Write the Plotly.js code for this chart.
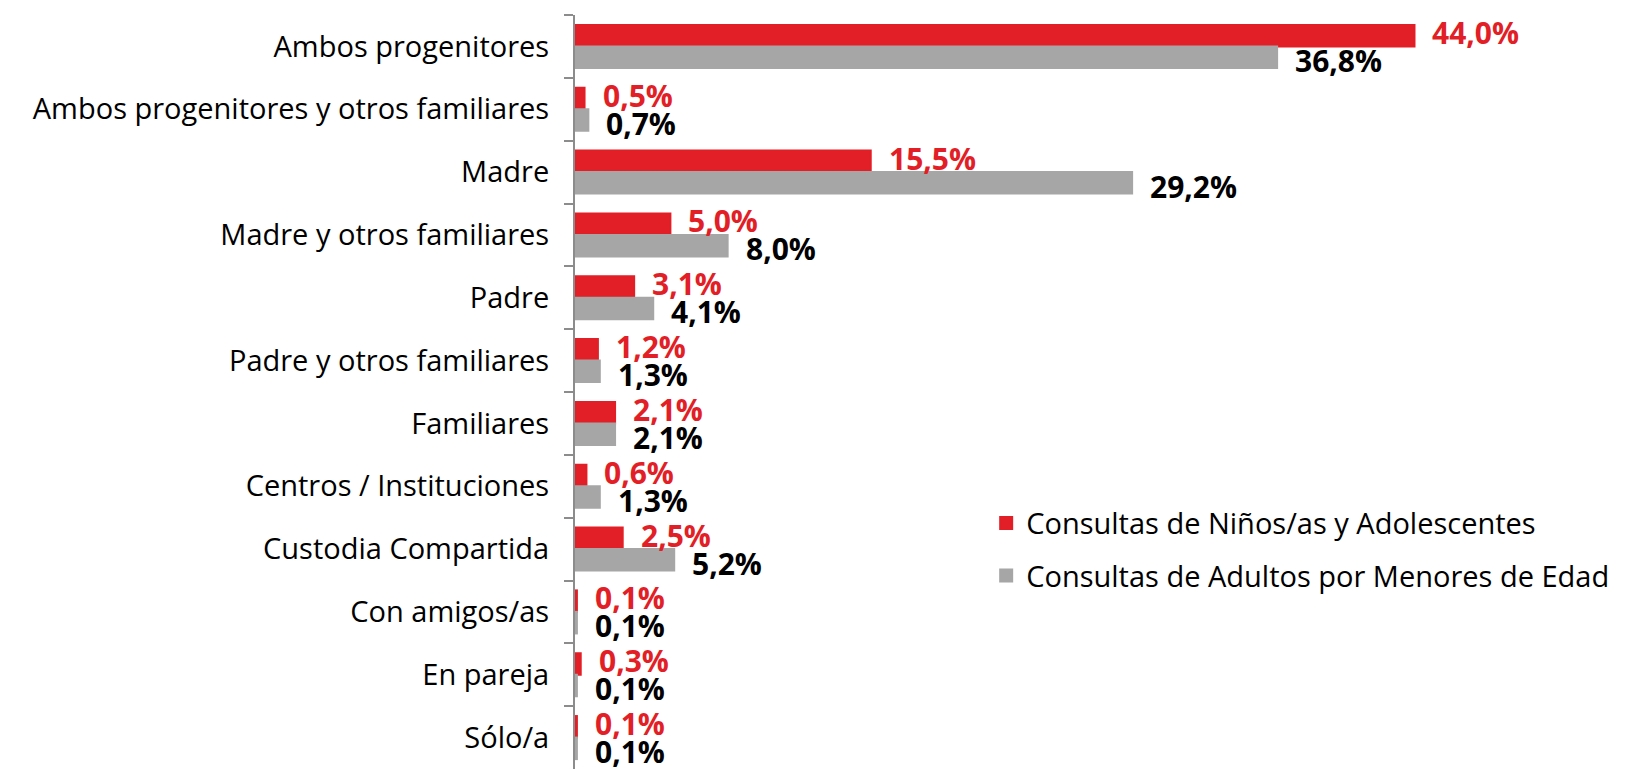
<!DOCTYPE html>
<html>
<head>
<meta charset="utf-8">
<script src="https://cdn.plot.ly/plotly-3.0.1.min.js"></script>
<style>html,body{margin:0;padding:0;background:#fff;}#chart{width:1632px;height:772px;}</style>
</head>
<body>
<div id="chart"></div>
<script>
const categories = [
  "Ambos progenitores",
  "Ambos progenitores y otros familiares",
  "Madre",
  "Madre y otros familiares",
  "Padre",
  "Padre y otros familiares",
  "Familiares",
  "Centros / Instituciones",
  "Custodia Compartida",
  "Con amigos/as",
  "En pareja",
  "Sólo/a"
];
const seriesNames = [
  "Consultas de Niños/as y Adolescentes",
  "Consultas de Adultos por Menores de Edad"
];
const ninosValues = [44.0, 0.5, 15.5, 5.0, 3.1, 1.2, 2.1, 0.6, 2.5, 0.1, 0.3, 0.1];
const adultosValues = [36.8, 0.7, 29.2, 8.0, 4.1, 1.3, 2.1, 1.3, 5.2, 0.1, 0.1, 0.1];

const fmt = v => v.toFixed(1).replace(".", ",") + "%";

const RED = "#E21E26";
const GRAY = "#A6A6A6";

const traces = [
  {
    type: "bar", orientation: "h", name: seriesNames[0], legendgroup: "a",
    y: categories, x: ninosValues,
    marker: {color: RED, line: {color: RED, width: 2}},
    hoverinfo: "x+y"
  },
  {
    type: "bar", orientation: "h", name: seriesNames[1], legendgroup: "b",
    y: categories, x: adultosValues,
    marker: {color: GRAY, line: {color: GRAY, width: 2}},
    hoverinfo: "x+y"
  }
];

const labelFont = {family: "Open Sans", size: 30, weight: 700};
const annotations = [];
categories.forEach((c, i) => {
  annotations.push({
    x: ninosValues[i], y: c, xref: "x", yref: "y",
    text: fmt(ninosValues[i]), showarrow: false,
    xanchor: "left", yanchor: "middle", xshift: 16, yshift: 14,
    font: Object.assign({color: RED}, labelFont)
  });
  annotations.push({
    x: adultosValues[i], y: c, xref: "x", yref: "y",
    text: fmt(adultosValues[i]), showarrow: false,
    xanchor: "left", yanchor: "middle", xshift: 16, yshift: -14,
    font: Object.assign({color: "#000000"}, labelFont)
  });
});

const layout = {
  width: 1632, height: 772,
  margin: {l: 575, r: 0, t: 15, b: 3, pad: 0},
  paper_bgcolor: "#ffffff", plot_bgcolor: "#ffffff",
  barmode: "group", bargap: 0.315, bargroupgap: 0,
  font: {family: "Open Sans", size: 29, color: "#000000"},
  showlegend: true,
  legend: {
    x: 0.389, xanchor: "left", y: 0.36, yanchor: "top",
    font: {family: "Open Sans", size: 29, color: "#000000"},
    traceorder: "grouped", tracegroupgap: 12,
    bgcolor: "rgba(0,0,0,0)"
  },
  annotations: annotations,
  xaxis: {
    range: [0, 55.4], visible: false, fixedrange: true
  },
  yaxis: {
    type: "category", range: [categories.length - 0.5, -0.5], autorange: false,
    showline: true, linecolor: "#8C8C8C", linewidth: 2,
    ticks: "outside", tickson: "boundaries", ticklen: 9, tickcolor: "#8C8C8C", tickwidth: 2,
    ticklabelstandoff: 18,
    showgrid: false, zeroline: false,
    tickfont: {family: "Open Sans", size: 29, color: "#000000"},
    automargin: false, fixedrange: true
  }
};

Plotly.newPlot("chart", traces, layout, {displayModeBar: false, staticPlot: true});
</script>
</body>
</html>
